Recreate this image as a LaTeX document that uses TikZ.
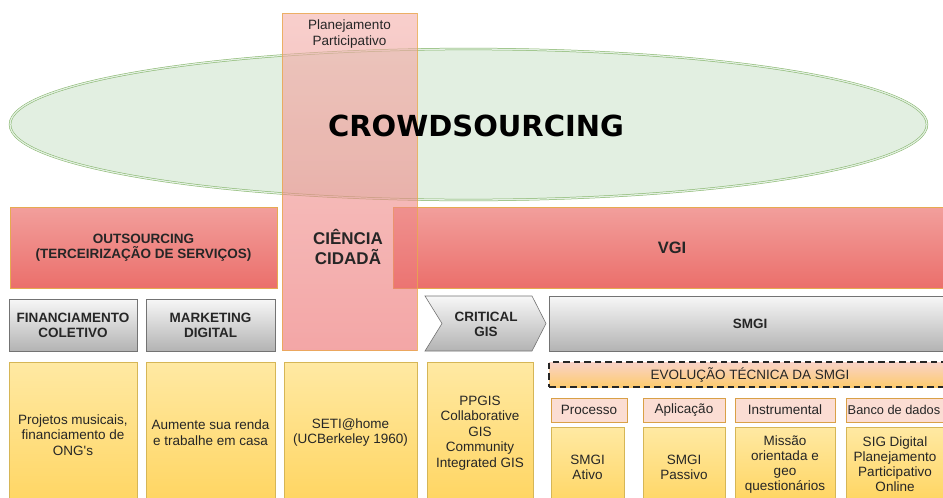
\documentclass[tikz,border=0pt]{standalone}
\usepackage{fontspec}
\setmainfont{Liberation Sans}
\newfontfamily\crowdfont{DejaVu Sans}
\usetikzlibrary{shapes.geometric}
\newcommand\txtsize[2]{\fontsize{#1}{#2}\selectfont}

\definecolor{crowdline}{HTML}{82B366}
\definecolor{crowdfill}{HTML}{D5E8D4}
\definecolor{redtop}{HTML}{F29F9C}
\definecolor{redbot}{HTML}{EB6F6B}
\definecolor{redline}{HTML}{E6AA50}
\definecolor{coltop}{HTML}{F3AFAA}
\definecolor{colbot}{HTML}{EB6B6B}
\definecolor{colline}{HTML}{E9A84C}
\definecolor{grytop}{HTML}{F7F7F7}
\definecolor{grybot}{HTML}{B3B3B3}
\definecolor{gryline}{HTML}{737373}
\definecolor{yeltop}{HTML}{FFE9A3}
\definecolor{yelbot}{HTML}{FFD561}
\definecolor{yelline}{HTML}{D6B656}
\definecolor{evotop}{HTML}{F9D3C8}
\definecolor{evobot}{HTML}{FDCB6E}
\definecolor{tagfill}{HTML}{FBDDD3}
\definecolor{tagline}{HTML}{D9A046}
\definecolor{ink}{HTML}{262626}

\begin{document}
\begin{tikzpicture}[x=1pt,y=-1pt,
  box/.style={rectangle, inner sep=0pt, outer sep=0pt, anchor=north west,
    align=center, text=ink},
  redband/.style={box, draw=redline, line width=0.8pt, top color=redtop,
    bottom color=redbot, font=\bfseries\txtsize{13.5}{15.5}},
  grybox/.style={box, draw=gryline, line width=0.6pt, top color=grytop,
    bottom color=grybot, font=\bfseries\txtsize{13.5}{15}},
  yelbox/.style={box, draw=yelline, line width=0.6pt, top color=yeltop,
    bottom color=yelbot, font=\txtsize{13.5}{15.5}},
  tagbox/.style={box, draw=tagline, line width=0.6pt, fill=tagfill,
    font=\txtsize{13.5}{15.5}},
  colbox/.style={box, draw=colline, line width=0.7pt, top color=coltop,
    bottom color=colbot, fill opacity=0.6, draw opacity=0.8},
  evobox/.style={box, draw=black!85, line width=2pt, dash pattern=on 6.5pt off 4pt,
    top color=evotop, bottom color=evobot, font=\txtsize{13.5}{15.5}},
  plain/.style={align=center, text=ink, inner sep=0pt}
]
\useasboundingbox (0,0) rectangle (943,498);
\clip (0,0) rectangle (943,498);

% the crowd ellipse
\node[ellipse, draw=crowdline, line width=0.5pt, double=crowdfill!70!white,
  double distance=1.3pt, fill=crowdfill, fill opacity=0.7,
  minimum width=917pt, minimum height=151pt, inner sep=0pt] (crowd) at (468.5,124.5) {};

% red bands
\node[redband, minimum width=267, minimum height=81] (outs) at (10,207)
  {OUTSOURCING\\(TERCEIRIZAÇÃO DE SERVIÇOS)};
\node[redband, minimum width=558, minimum height=81, font=\bfseries\txtsize{16.5}{18}]
  (vgi) at (393,207) {VGI};

% participatory planning column, see-through over the ellipse and band
\node[colbox, minimum width=135, minimum height=337] (pp) at (282,13) {};
\node[plain, font=\txtsize{13.5}{16}] (pptxt) at (349.5,34.5) {Planejamento\\Participativo};
\node[plain, font=\bfseries\txtsize{17}{20}] (cc) at (348,247) {CIÊNCIA\\CIDADÃ};

\node[plain, font=\crowdfont\bfseries\txtsize{29}{32}, text=black] (crowdtxt)
  at (476,126) {CROWDSOURCING};

% grey headers
\node[grybox, minimum width=128, minimum height=52] (fin) at (9,299) {FINANCIAMENTO\\COLETIVO};
\node[grybox, minimum width=129, minimum height=52] (mkt) at (146,299) {MARKETING\\DIGITAL};
\path[draw=gryline, line width=0.6pt, top color=grytop, bottom color=grybot]
  (425,296) -- (532,296) -- (546,323.5) -- (532,351) -- (425,351) -- (442,323.5) -- cycle;
\node[plain, font=\bfseries\txtsize{13.5}{15}] (cgis) at (486,324.5) {CRITICAL\\GIS};
\node[grybox, minimum width=402, minimum height=55] (smgi) at (549,296) {SMGI};

% yellow examples
\node[yelbox, minimum width=128, minimum height=146] (ex1) at (9,362)
  {Projetos musicais,\\financiamento de\\ONG\textquotesingle s};
\node[yelbox, minimum width=129, minimum height=141] (ex2) at (146,362)
  {Aumente sua renda\\e trabalhe em casa};
\node[yelbox, minimum width=133, minimum height=141] (ex3) at (284,362)
  {SETI@home\\(UCBerkeley 1960)};
\node[yelbox, minimum width=106, minimum height=142] (ex4) at (427,362)
  {PPGIS\\Collaborative\\GIS\\Community\\Integrated GIS};

% technical evolution of SMGI
\node[evobox, minimum width=402, minimum height=25] (evo) at (549,362) {EVOLUÇÃO TÉCNICA DA SMGI};

\node[tagbox, minimum width=76, minimum height=24] (t1) at (551,398) {Processo};
\node[tagbox, minimum width=82, minimum height=24] (t2) at (643,398) {Aplicação};
\node[tagbox, minimum width=100, minimum height=24] (t3) at (735,398) {Instrumental};
\node[tagbox, minimum width=104, minimum height=24] (t4) at (846,398) {};
\node[plain, font=\txtsize{12.8}{15}] (t4txt) at (894,410) {Banco de dados};

\node[yelbox, minimum width=73, minimum height=81] (s1) at (551,427) {SMGI\\Ativo};
\node[yelbox, minimum width=82, minimum height=81] (s2) at (643,427) {SMGI\\Passivo};
\node[yelbox, minimum width=100, minimum height=75, font=\txtsize{13.5}{15}] (s3) at (735,427)
  {Missão\\orientada e\\geo\\questionários};
\node[yelbox, minimum width=98, minimum height=75, font=\txtsize{13.5}{15}] (s4) at (846,427)
  {SIG Digital\\Planejamento\\Participativo\\Online};
\end{tikzpicture}
\end{document}
